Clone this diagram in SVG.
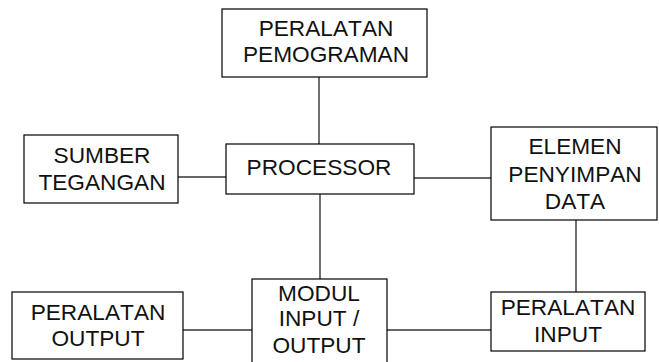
<svg xmlns="http://www.w3.org/2000/svg" width="659" height="362" viewBox="0 0 659 362">
<style>
.box{fill:#fff;stroke:#000;stroke-width:1.2}
.c{stroke:#333;stroke-width:1.4;fill:none}
.t{font-family:"Liberation Sans",Arial,sans-serif;font-size:22px;fill:#111;text-anchor:middle;font-kerning:none}
</style>
<rect width="659" height="362" fill="#fff"/>
<g id="connectors">
<line class="c" x1="319" y1="77" x2="319" y2="144"/>
<line class="c" x1="178" y1="177" x2="226" y2="177"/>
<line class="c" x1="414" y1="178" x2="491" y2="178"/>
<line class="c" x1="320" y1="194" x2="320" y2="279"/>
<line class="c" x1="576" y1="220" x2="576" y2="292"/>
<line class="c" x1="183" y1="330" x2="252" y2="330"/>
<line class="c" x1="387" y1="330" x2="491" y2="330"/>
</g>
<g id="peralatan-pemograman">
<rect class="box" x="222" y="9" width="205" height="68"/>
<text class="t" transform="translate(326,0) scale(1.03,1)"><tspan x="0" y="36">PERALATAN</tspan><tspan x="0" y="62">PEMOGRAMAN</tspan></text>
</g>
<g id="sumber-tegangan">
<rect class="box" x="24" y="135" width="154" height="68"/>
<text class="t" transform="translate(102,0) scale(1.03,1)"><tspan x="0" y="163">SUMBER</tspan><tspan x="0" y="190">TEGANGAN</tspan></text>
</g>
<g id="processor">
<rect class="box" x="226" y="144" width="188" height="50"/>
<text class="t" transform="translate(319,0) scale(1.03,1)"><tspan x="0" y="175">PROCESSOR</tspan></text>
</g>
<g id="elemen-penyimpan-data">
<rect class="box" x="491" y="127" width="166" height="93"/>
<text class="t" transform="translate(575,0) scale(1.03,1)"><tspan x="0" y="154">ELEMEN</tspan><tspan x="0" y="182">PENYIMPAN</tspan><tspan x="0" y="209">DATA</tspan></text>
</g>
<g id="peralatan-output">
<rect class="box" x="12" y="292" width="171" height="67"/>
<text class="t" transform="translate(98,0) scale(1.03,1)"><tspan x="0" y="320">PERALATAN</tspan><tspan x="0" y="346">OUTPUT</tspan></text>
</g>
<g id="modul-input-output">
<rect class="box" x="252" y="279" width="135" height="90"/>
<text class="t" transform="translate(319,0) scale(1.03,1)"><tspan x="0" y="301">MODUL</tspan><tspan x="0" y="326">INPUT /</tspan><tspan x="0" y="353">OUTPUT</tspan></text>
</g>
<g id="peralatan-input">
<rect class="box" x="491" y="292" width="154" height="59"/>
<text class="t" transform="translate(568,0) scale(1.03,1)"><tspan x="0" y="315">PERALATAN</tspan><tspan x="0" y="342">INPUT</tspan></text>
</g>
</svg>
